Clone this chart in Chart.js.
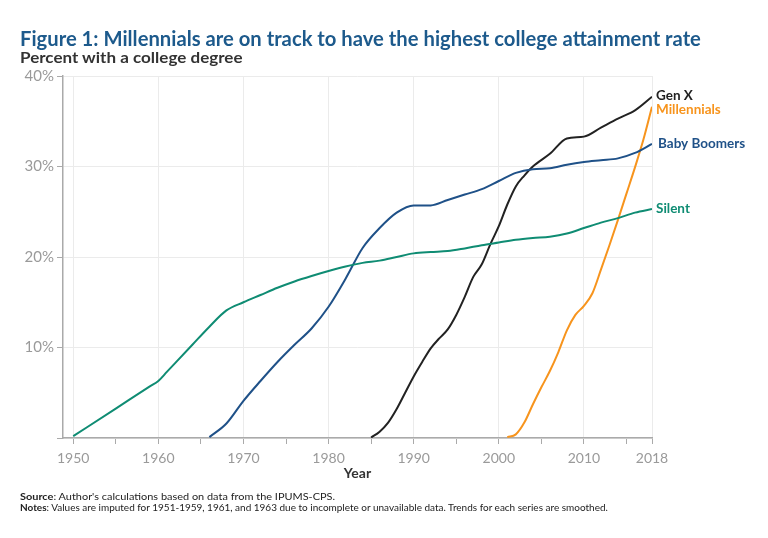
<!DOCTYPE html>
<html>
<head>
<meta charset="utf-8">
<script src="https://cdn.jsdelivr.net/npm/chart.js@4.4.1/dist/chart.umd.min.js"></script>
<style>
  body { margin:0; background:#fff; }
  #wrap { position:relative; width:768px; height:538px; overflow:hidden; }
  #wrap canvas { position:absolute; left:0; top:0; }
  .txt { position:absolute; white-space:nowrap; line-height:1; transform-origin:0 0; }
</style>
</head>
<body>
<div id="wrap">
  <canvas id="chart" width="768" height="538"></canvas>
  <div class="txt fit" data-w="681" style="left:20px;top:25px;font:700 21px Lato;color:#1d5a8c">Figure 1: Millennials are on track to have the highest college attainment rate</div>
  <div class="txt fit" data-w="222" style="left:20px;top:48px;font:700 15.5px Lato;color:#333">Percent with a college degree</div>
  <div class="txt fit" data-w="315" style="left:20px;top:490px;font:400 10px Lato;color:#222"><b>Source</b>: Author's calculations based on data from the IPUMS-CPS.</div>
  <div class="txt fit" data-w="588" style="left:20px;top:501px;font:400 10px Lato;color:#222"><b>Notes</b>: Values are imputed for 1951-1959, 1961, and 1963 due to incomplete or unavailable data. Trends for each series are smoothed.</div>
</div>
<script>
// Données (% avec diplôme universitaire)
const silentYears   = [1950, 1955, 1959, 1960, 1961, 1962, 1964, 1966, 1968, 1970, 1972, 1974, 1976, 1978, 1980, 1982, 1984, 1986, 1988, 1990, 1992, 1994, 1996, 1998, 2000, 2002, 2004, 2006, 2008, 2010, 2012, 2014, 2016, 2018];
const silentValues  = [0.2, 3.25, 5.7, 6.3, 7.3, 8.3, 10.3, 12.3, 14.1, 15.0, 15.8, 16.6, 17.3, 17.9, 18.45, 18.95, 19.35, 19.6, 20.0, 20.4, 20.55, 20.65, 20.95, 21.3, 21.6, 21.9, 22.1, 22.25, 22.6, 23.2, 23.8, 24.3, 24.9, 25.3];

const boomersYears  = [1966, 1968, 1970, 1972, 1974, 1976, 1978, 1980, 1982, 1984, 1986, 1988, 1990, 1992, 1994, 1996, 1998, 2000, 2002, 2004, 2006, 2008, 2010, 2012, 2014, 2016, 2018];
const boomersValues = [0.1, 1.6, 4.1, 6.3, 8.4, 10.3, 12.1, 14.5, 17.6, 21.0, 23.2, 24.9, 25.7, 25.7, 26.3, 26.9, 27.5, 28.4, 29.3, 29.7, 29.8, 30.2, 30.5, 30.7, 30.9, 31.5, 32.5];

const genxYears     = [1985, 1986, 1987, 1988, 1989, 1990, 1991, 1992, 1993, 1994, 1995, 1996, 1997, 1998, 1999, 2000, 2001, 2002, 2003, 2004, 2006, 2008, 2010, 2012, 2014, 2016, 2018];
const genxValues    = [0.05, 0.7, 1.7, 3.2, 5.0, 6.8, 8.4, 9.9, 11.0, 12.0, 13.6, 15.6, 17.8, 19.2, 21.4, 23.4, 25.8, 27.8, 29.0, 30.0, 31.4, 33.1, 33.3, 34.3, 35.3, 36.2, 37.7];

const millYears     = [2001, 2002, 2003, 2004, 2005, 2006, 2007, 2008, 2009, 2010, 2011, 2012, 2013, 2014, 2015, 2016, 2017, 2018];
const millValues    = [0.1, 0.4, 1.7, 3.7, 5.6, 7.4, 9.5, 11.9, 13.6, 14.6, 16.0, 18.6, 21.3, 24.1, 27.0, 29.9, 33.0, 36.6];

const seriesNames   = ["Silent", "Baby Boomers", "Gen X", "Millennials"];
const seriesColors  = ["#0f8c73", "#1f5188", "#222222", "#f7941d"];

const majorTicks = [1950, 1960, 1970, 1980, 1990, 2000, 2010, 2018];
const minorTicks = [1955, 1965, 1975, 1985, 1995, 2005, 2015];
const yTicks     = [0, 10, 20, 30, 40];

function pairs(xs, ys) { return xs.map((x, i) => ({ x: x, y: ys[i] })); }

const allData = [
  pairs(silentYears, silentValues),
  pairs(boomersYears, boomersValues),
  pairs(genxYears, genxValues),
  pairs(millYears, millValues)
];

// étiquettes en bout de courbe
const endLabels = {
  id: 'endLabels',
  afterDatasetsDraw(chart) {
    const ctx = chart.ctx;
    const nudge = [[4, 0], [6, 0], [4, -1], [4, 3]];
    ctx.save();
    ctx.font = '700 13.5px Lato';
    ctx.textBaseline = 'middle';
    chart.data.datasets.forEach((ds, i) => {
      const pts = chart.getDatasetMeta(i).data;
      const p = pts[pts.length - 1];
      ctx.fillStyle = ds.borderColor;
      ctx.fillText(ds.label, p.x + nudge[i][0], p.y + nudge[i][1]);
    });
    ctx.restore();
  }
};

new Chart(document.getElementById('chart'), {
  type: 'line',
  data: {
    datasets: allData.map((d, i) => ({
      label: seriesNames[i],
      data: d,
      borderColor: seriesColors[i],
      borderWidth: 2,
      pointRadius: 0,
      fill: false,
      cubicInterpolationMode: 'monotone'
    }))
  },
  options: {
    responsive: false,
    animation: false,
    layout: { padding: { left: 0, top: 76, right: 116, bottom: 52 } },
    plugins: { legend: { display: false }, tooltip: { enabled: false } },
    scales: {
      x: {
        type: 'linear',
        min: 1948.8,
        max: 2018,
        afterBuildTicks: s => { s.ticks = majorTicks.concat(minorTicks).map(v => ({ value: v })); },
        afterFit: s => { s.height = 48; },
        grid: {
          color: c => (c.tick && majorTicks.includes(c.tick.value)) ? '#ebebeb' : 'rgba(0,0,0,0)',
          tickColor: '#aaaaaa',
          tickLength: 6
        },
        border: { color: '#aaaaaa', width: 1.5 },
        ticks: {
          autoSkip: false,
          maxRotation: 0,
          color: '#9a9a9a',
          font: { family: 'Lato', size: 14 },
          padding: 6,
          callback: v => majorTicks.includes(v) ? String(v) : ''
        },
        title: {
          display: true,
          text: 'Year',
          color: '#333',
          font: { family: 'Lato', size: 14, weight: '700' },
          padding: { top: 0, bottom: 4 }
        }
      },
      y: {
        min: 0,
        max: 40,
        afterBuildTicks: s => { s.ticks = yTicks.map(v => ({ value: v })); },
        afterFit: s => { s.width = 63; },
        grid: { color: '#ebebeb', tickColor: '#aaaaaa', tickLength: 6 },
        border: { color: '#aaaaaa', width: 1.5 },
        ticks: {
          color: '#9a9a9a',
          font: { family: 'Lato', size: 15 },
          padding: 3,
          callback: v => v === 0 ? '' : v + '%'
        }
      }
    }
  },
  plugins: [endLabels]
});

// ajuster la largeur des textes à celle du modèle
document.querySelectorAll('.fit').forEach(el => {
  const w = +el.dataset.w;
  el.style.transform = 'scaleX(' + (w / el.scrollWidth) + ')';
});
</script>
</body>
</html>
